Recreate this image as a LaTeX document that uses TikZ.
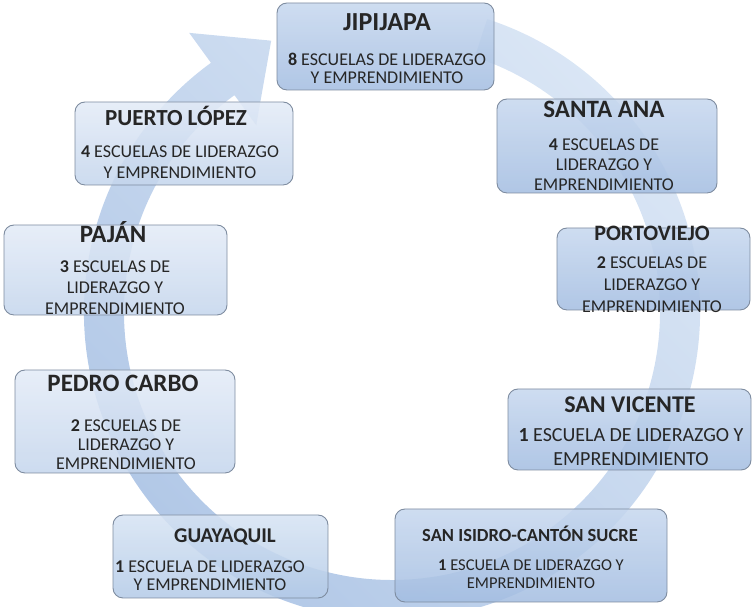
\documentclass[tikz,border=0pt]{standalone}
\usepackage{fontspec}
\setmainfont{Carlito}
\definecolor{SKInk}{HTML}{262626}
\definecolor{SKEdge}{HTML}{7E8CA0}
\definecolor{SKDeepTop}{HTML}{C6D7EE}
\definecolor{SKDeepBot}{HTML}{A3BDE1}
\definecolor{SKMidTop}{HTML}{D6E3F3}
\definecolor{SKMidBot}{HTML}{B3CAE7}
\definecolor{SKPaleTop}{HTML}{E3EBF7}
\definecolor{SKPaleBot}{HTML}{C4D5EC}
\definecolor{SKRingPale}{HTML}{DAE6F5}
\definecolor{SKRingDeep}{HTML}{AFC6E6}
\tikzset{
  card/.style={draw=SKEdge,line width=0.9pt,rounded corners=10pt,
               top color=SKDeepTop,bottom color=SKDeepBot,fill opacity=0.86,inner sep=0pt},
  cardmid/.style={card,top color=SKMidTop,bottom color=SKMidBot},
  cardpale/.style={card,top color=SKPaleTop,bottom color=SKPaleBot},
  town/.style={text=SKInk,inner sep=0pt,font=\fontsize{#1}{#1}\selectfont\bfseries},
  town/.default=25,
  schools/.style 2 args={text=SKInk,inner sep=0pt,align=center,
               font=\fontsize{#1}{#2}\selectfont},
  ring/.style={top color=SKRingPale,bottom color=SKRingDeep,shading angle=-45},
}

\begin{document}
\begin{tikzpicture}[x=1pt,y=1pt]
    \useasboundingbox (0,0) rectangle (753,607);

    % circular arrow behind the boxes
    \begin{scope}[shift={(392,295)}]
      \path[ring] (72:308pt) arc[start angle=72,end angle=-234,radius=308pt]
        -- (126:345pt) -- (114:297pt) -- (126:231pt) -- (126:268pt)
        arc[start angle=-234,end angle=72,radius=268pt] -- cycle;
    \end{scope}

    % JIPIJAPA
    \node[card,minimum width=217pt,minimum height=87pt] (jipijapa) at (385.5,560.5) {};
    \node[town=26] (jipijapaT) at (387,585) {JIPIJAPA};
    \node[schools={18}{18}] (jipijapaB) at (387,539)
      {\textbf{8} ESCUELAS DE LIDERAZGO\\Y EMPRENDIMIENTO};

    % SANTA ANA
    \node[card,minimum width=220pt,minimum height=94pt] (santaana) at (607,461) {};
    \node[town] (santaanaT) at (604,498) {SANTA ANA};
    \node[schools={18}{20}] (santaanaB) at (604,442)
      {\textbf{4} ESCUELAS DE\\LIDERAZGO Y\\EMPRENDIMIENTO};

    % PORTOVIEJO
    \node[card,minimum width=193pt,minimum height=82pt] (portoviejo) at (653.5,338) {};
    \node[town=22] (portoviejoT) at (652,374) {PORTOVIEJO};
    \node[schools={18}{22}] (portoviejoB) at (652,322)
      {\textbf{2} ESCUELAS DE\\LIDERAZGO Y\\EMPRENDIMIENTO};

    % SAN VICENTE
    \node[card,minimum width=243pt,minimum height=81pt] (sanvicente) at (629.5,177.5) {};
    \node[town=24] (sanvicenteT) at (630,202) {SAN VICENTE};
    \node[schools={20}{24}] (sanvicenteB) at (631,160)
      {\textbf{1} ESCUELA DE LIDERAZGO Y\\EMPRENDIMIENTO};

    % SAN ISIDRO
    \node[card,minimum width=272pt,minimum height=93pt] (sanisidro) at (531,51.5) {};
    \node[town=18.5] (sanisidroT) at (530,73) {SAN ISIDRO-CANTÓN SUCRE};
    \node[schools={16.5}{18}] (sanisidroB) at (531,33)
      {\textbf{1} ESCUELA DE LIDERAZGO Y\\EMPRENDIMIENTO};

    % GUAYAQUIL
    \node[cardmid,minimum width=215pt,minimum height=83pt] (guayaquil) at (220.5,50.5) {};
    \node[town=21] (guayaquilT) at (225,70) {GUAYAQUIL};
    \node[schools={18}{17.5}] (guayaquilB) at (210,31.5)
      {\textbf{1} ESCUELA DE LIDERAZGO\\Y EMPRENDIMIENTO};

    % PEDRO CARBO
    \node[cardpale,minimum width=220pt,minimum height=103pt] (pedrocarbo) at (125,185.5) {};
    \node[town] (pedrocarboT) at (123,224) {PEDRO CARBO};
    \node[schools={18}{19}] (pedrocarboB) at (126,162)
      {\textbf{2} ESCUELAS DE\\LIDERAZGO Y\\EMPRENDIMIENTO};

    % PAJAN
    \node[cardpale,minimum width=223pt,minimum height=90pt] (pajan) at (115.5,337) {};
    \node[town] (pajanT) at (113,375) {PAJÁN};
    \node[schools={18}{21}] (pajanB) at (115,319)
      {\textbf{3} ESCUELAS DE\\LIDERAZGO Y\\EMPRENDIMIENTO};

    % PUERTO LOPEZ
    \node[cardpale,minimum width=218pt,minimum height=83pt] (puertolopez) at (184,463.5) {};
    \node[town=23] (puertolopezT) at (176,491) {PUERTO LÓPEZ};
    \node[schools={18}{21}] (puertolopezB) at (180,444.5)
      {\textbf{4} ESCUELAS DE LIDERAZGO\\Y EMPRENDIMIENTO};
  \end{tikzpicture}
\end{document}
